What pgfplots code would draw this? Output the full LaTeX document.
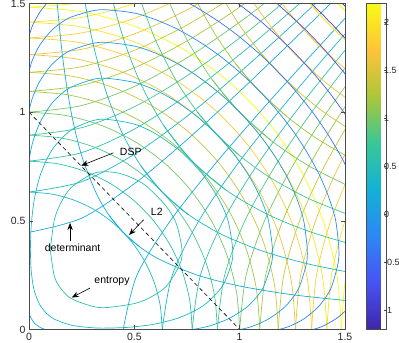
\documentclass[border=0pt]{standalone}
\usepackage{pgfplots}
\pgfplotsset{compat=1.18}
\usepackage{fontspec}
\setmainfont{Liberation Sans}
\usetikzlibrary{arrows.meta}

\definecolor{p0}{rgb}{0.2422,0.1504,0.6603}
\definecolor{p1}{rgb}{0.2810,0.3228,0.9579}
\definecolor{p2}{rgb}{0.1786,0.5289,0.9682}
\definecolor{p3}{rgb}{0.0689,0.6948,0.8394}
\definecolor{p4}{rgb}{0.2161,0.7843,0.5923}
\definecolor{p5}{rgb}{0.6720,0.7793,0.2227}
\definecolor{p6}{rgb}{0.9970,0.7659,0.2199}
\definecolor{p7}{rgb}{0.9769,0.9839,0.0805}
\colorlet{cm12}{p0}
\colorlet{cm10}{p1!41!p0}
\colorlet{cm08}{p1!82!p0}
\colorlet{cm06}{p2!24!p1}
\colorlet{cm04}{p2!65!p1}
\colorlet{cm02}{p3!6!p2}
\colorlet{c00}{p3!47!p2}
\colorlet{c02}{p3!88!p2}
\colorlet{c04}{p4!29!p3}
\colorlet{c06}{p4!71!p3}
\colorlet{c08}{p5!12!p4}
\colorlet{c10}{p5!53!p4}
\colorlet{c12}{p5!94!p4}
\colorlet{c14}{p6!35!p5}
\colorlet{c16}{p6!76!p5}
\colorlet{c18}{p7!18!p6}
\colorlet{c20}{p7!59!p6}
\colorlet{c22}{p7}

\pgfplotsset{
  /pgf/number format/assume math mode=true,
  tick label style={font=\fontsize{10.5}{12}\selectfont, text=black!85},
}
\newcommand{\sym}[2]{%
  \addplot[#1] table[row sep=\\]{#2};
  \addplot[#1] table[row sep=\\,x index=1,y index=0]{#2};}

\begin{document}
\begin{tikzpicture}
\begin{axis}[name=ax, scale only axis, width=316pt, height=326pt,
  xmin=0, xmax=1.5, ymin=0, ymax=1.5,
  xtick={0,0.5,1,1.5}, ytick={0,0.5,1,1.5},
  tick align=inside, major tick length=4pt,
  axis line style={black!70, line width=0.5pt},
  every tick/.style={black!70, line width=0.5pt},
  axis on top, no markers,
  every axis plot/.append style={smooth, line width=0.7pt},
  colormap={parula}{rgb=(0.2422,0.1504,0.6603) rgb=(0.2810,0.3228,0.9579) rgb=(0.1786,0.5289,0.9682) rgb=(0.0689,0.6948,0.8394) rgb=(0.2161,0.7843,0.5923) rgb=(0.6720,0.7793,0.2227) rgb=(0.9970,0.7659,0.2199) rgb=(0.9769,0.9839,0.0805)},
  point meta min=-1.2, point meta max=2.2,
  colorbar,
  colorbar style={at={(parent axis.north east)}, anchor=north west, xshift=13pt,
    scale only axis, width=20pt, height=326pt,
    ytick={-1,-0.5,0,0.5,1,1.5,2}, ytick pos=right, yticklabel pos=right,
    tick align=inside, major tick length=3pt,
    yticklabel style={font=\fontsize{9}{11}\selectfont, inner xsep=0pt, xshift=-2.5pt},
    axis line style={black!70, line width=0.5pt},
    every tick/.style={black!70, line width=0.5pt}},
]
% ---------- L2: circles (angle, radius)
\addplot[c04, data cs=polar] coordinates {(0,0.6325)(10,0.6325)(20,0.6325)(30,0.6325)(40,0.6325)(50,0.6325)(60,0.6325)(70,0.6325)(80,0.6325)(90,0.6325)};
\addplot[c06, data cs=polar] coordinates {(0,0.7746)(10,0.7746)(20,0.7746)(30,0.7746)(40,0.7746)(50,0.7746)(60,0.7746)(70,0.7746)(80,0.7746)(90,0.7746)};
\addplot[c08, data cs=polar] coordinates {(0,0.8944)(10,0.8944)(20,0.8944)(30,0.8944)(40,0.8944)(50,0.8944)(60,0.8944)(70,0.8944)(80,0.8944)(90,0.8944)};
\addplot[c10, data cs=polar] coordinates {(0,1.0)(10,1.0)(20,1.0)(30,1.0)(40,1.0)(50,1.0)(60,1.0)(70,1.0)(80,1.0)(90,1.0)};
\addplot[c12, data cs=polar] coordinates {(0,1.0954)(10,1.0954)(20,1.0954)(30,1.0954)(40,1.0954)(50,1.0954)(60,1.0954)(70,1.0954)(80,1.0954)(90,1.0954)};
\addplot[c14, data cs=polar] coordinates {(0,1.1832)(10,1.1832)(20,1.1832)(30,1.1832)(40,1.1832)(50,1.1832)(60,1.1832)(70,1.1832)(80,1.1832)(90,1.1832)};
\addplot[c16, data cs=polar] coordinates {(0,1.2649)(10,1.2649)(20,1.2649)(30,1.2649)(40,1.2649)(50,1.2649)(60,1.2649)(70,1.2649)(80,1.2649)(90,1.2649)};
\addplot[c18, data cs=polar] coordinates {(0,1.3416)(10,1.3416)(20,1.3416)(30,1.3416)(40,1.3416)(50,1.3416)(60,1.3416)(70,1.3416)(80,1.3416)(90,1.3416)};
\addplot[c20, data cs=polar] coordinates {(0,1.4142)(10,1.4142)(20,1.4142)(30,1.4142)(40,1.4142)(50,1.4142)(60,1.4142)(70,1.4142)(80,1.4142)(90,1.4142)};
\addplot[c22, data cs=polar] coordinates {(0,1.4832)(10,1.4832)(20,1.4832)(30,1.4832)(40,1.4832)(50,1.4832)(60,1.4832)(70,1.4832)(80,1.4832)(90,1.4832)};
% ---------- determinant: two branches
\sym{c02}{0 0.4472\\ 0.25 0.5123\\ 0.5 0.6708\\ 0.75 0.8732\\ 1 1.0954\\ 1.25 1.3276\\ 1.5 1.5652\\}
\sym{c04}{0 0.6325\\ 0.25 0.6801\\ 0.5 0.8062\\ 0.75 0.9811\\ 1 1.1832\\ 1.25 1.4009\\ 1.5 1.6279\\}
\sym{c06}{0 0.7746\\ 0.25 0.8139\\ 0.5 0.9220\\ 0.75 1.0782\\ 1 1.2649\\ 1.25 1.4705\\ 1.5 1.6882\\}
\sym{c08}{0 0.8944\\ 0.25 0.9287\\ 0.5 1.0247\\ 0.75 1.1673\\ 1 1.3416\\ 1.25 1.5370\\}
\sym{c10}{0 1.0\\ 0.25 1.0308\\ 0.5 1.1180\\ 0.75 1.25\\ 1 1.4142\\ 1.25 1.6008\\}
\sym{c12}{0 1.0954\\ 0.25 1.1236\\ 0.5 1.2042\\ 0.75 1.3276\\ 1 1.4832\\ 1.25 1.6621\\}
\sym{c14}{0 1.1832\\ 0.25 1.2093\\ 0.5 1.2845\\ 0.75 1.4009\\ 1 1.5492\\}
\sym{c16}{0 1.2649\\ 0.25 1.2894\\ 0.5 1.3601\\ 0.75 1.4705\\ 1 1.6125\\}
\sym{c18}{0 1.3416\\ 0.25 1.3647\\ 0.5 1.4318\\ 0.75 1.5370\\}
\sym{c20}{0 1.4142\\ 0.25 1.4361\\ 0.5 1.5\\ 0.75 1.6008\\}
\sym{c22}{0 1.4832\\ 0.25 1.5042\\ 0.5 1.5652\\}
% ---------- DSP: halves mirrored
\sym{c02}{0.129 1.55\\ 0.16 1.25\\ 0.2 1.0\\ 0.25 0.8\\ 0.32 0.625\\ 0.38 0.526\\ 0.4472 0.4472\\ 0.526 0.38\\}
\sym{c04}{0.258 1.55\\ 0.3 1.333\\ 0.36 1.111\\ 0.44 0.909\\ 0.53 0.755\\ 0.6325 0.6325\\ 0.755 0.53\\}
\sym{c06}{0.387 1.55\\ 0.45 1.333\\ 0.53 1.132\\ 0.64 0.9375\\ 0.7746 0.7746\\ 0.9375 0.64\\}
\sym{c08}{0.516 1.55\\ 0.6 1.333\\ 0.7 1.143\\ 0.8 1.0\\ 0.8944 0.8944\\ 1.0 0.8\\}
\sym{c10}{0.645 1.55\\ 0.75 1.333\\ 0.87 1.149\\ 1 1\\ 1.149 0.87\\}
\sym{c12}{0.774 1.55\\ 0.88 1.364\\ 0.98 1.224\\ 1.0954 1.0954\\ 1.224 0.98\\}
\sym{c14}{0.903 1.55\\ 1.0 1.4\\ 1.09 1.284\\ 1.1832 1.1832\\ 1.284 1.09\\}
\sym{c16}{1.032 1.55\\ 1.15 1.391\\ 1.2649 1.2649\\ 1.391 1.15\\}
\sym{c18}{1.161 1.55\\ 1.25 1.44\\ 1.3416 1.3416\\ 1.44 1.25\\}
\sym{c20}{1.29 1.55\\ 1.35 1.481\\ 1.4142 1.4142\\ 1.481 1.35\\}
\sym{c22}{1.419 1.55\\ 1.45 1.517\\ 1.4832 1.4832\\ 1.517 1.45\\}
% ---------- entropy
\addplot[c06] coordinates {(0.101,0.368)(0.12,0.503)(0.15,0.58)(0.2,0.653)(0.3,0.716)(0.368,0.726)(0.45,0.713)(0.55,0.665)(0.65,0.568)(0.7,0.485)(0.726,0.368)(0.716,0.3)(0.653,0.2)(0.58,0.15)(0.503,0.12)(0.368,0.101)(0.3,0.107)(0.2,0.1425)(0.15,0.19)(0.12,0.246)(0.101,0.368)};
\addplot[c04] coordinates {(0.0065,0.368)(0.01,0.471)(0.02,0.566)(0.03,0.622)(0.05,0.70)(0.08,0.774)(0.12,0.841)(0.2,0.918)(0.3,0.96)(0.368,0.967)(0.5,0.945)(0.6,0.901)(0.7,0.835)(0.742,0.8)(0.8,0.742)(0.835,0.7)(0.901,0.6)(0.945,0.5)(0.967,0.368)(0.96,0.3)(0.918,0.2)(0.841,0.12)(0.774,0.08)(0.70,0.05)(0.622,0.03)(0.566,0.02)(0.471,0.01)(0.368,0.0065)(0.3,0.0081)(0.2,0.02)(0.12,0.048)(0.08,0.0774)(0.05,0.1165)(0.03,0.163)(0.02,0.2)(0.01,0.275)(0.0065,0.368)};
\addplot[c02] coordinates {(0,0.771)(0.001,0.78)(0.005,0.806)(0.01,0.83)(0.02,0.869)(0.05,0.948)(0.1,1.03)(0.15,1.081)(0.2,1.115)(0.3,1.15)(0.368,1.156)(0.5,1.137)(0.6,1.1015)(0.7,1.0485)(0.8,0.978)(0.894,0.894)(0.978,0.8)(1.0485,0.7)(1.1015,0.6)(1.137,0.5)(1.156,0.368)(1.15,0.3)(1.115,0.2)(1.081,0.15)(1.03,0.1)(0.948,0.05)(0.869,0.02)(0.83,0.01)(0.806,0.005)(0.78,0.001)(0.771,0)};
\addplot[c02] coordinates {(0,0.079)(0.005,0.0627)(0.01,0.052)(0.02,0.037)(0.027,0.027)(0.037,0.02)(0.052,0.01)(0.0627,0.005)(0.079,0)};
\addplot[c00] coordinates {(0,1)(0.001,1.0067)(0.005,1.026)(0.01,1.045)(0.02,1.075)(0.05,1.14)(0.1,1.21)(0.15,1.255)(0.2,1.285)(0.3,1.316)(0.368,1.321)(0.5,1.304)(0.6,1.272)(0.7,1.226)(0.8,1.165)(0.9,1.091)(1,1)(1.091,0.9)(1.165,0.8)(1.226,0.7)(1.272,0.6)(1.304,0.5)(1.321,0.368)(1.316,0.3)(1.285,0.2)(1.255,0.15)(1.21,0.1)(1.14,0.05)(1.075,0.02)(1.045,0.01)(1.026,0.005)(1.0067,0.001)(1,0)};
\addplot[cm02] coordinates {(0,1.184)(0.001,1.19)(0.005,1.206)(0.01,1.223)(0.02,1.249)(0.05,1.307)(0.1,1.369)(0.15,1.41)(0.2,1.4375)(0.3,1.466)(0.368,1.471)(0.5,1.456)(0.6,1.426)(0.7,1.384)(0.8,1.329)(0.9,1.263)(1.0,1.184)(1.0955,1.0955)(1.184,1.0)(1.263,0.9)(1.329,0.8)(1.384,0.7)(1.426,0.6)(1.456,0.5)(1.471,0.368)(1.466,0.3)(1.4375,0.2)(1.41,0.15)(1.369,0.1)(1.307,0.05)(1.249,0.02)(1.223,0.01)(1.206,0.005)(1.19,0.001)(1.184,0)};
\addplot[cm04] coordinates {(0,1.346)(0.001,1.351)(0.005,1.366)(0.01,1.381)(0.02,1.405)(0.05,1.458)(0.08,1.496)(0.1,1.516)};
\addplot[cm04] coordinates {(1.346,0)(1.351,0.001)(1.366,0.005)(1.381,0.01)(1.405,0.02)(1.458,0.05)(1.496,0.08)(1.516,0.1)};
\addplot[cm04] coordinates {(0.708,1.525)(0.76,1.5)(0.8,1.479)(0.9,1.4175)(1.0,1.346)(1.1,1.263)(1.184,1.184)(1.263,1.1)(1.346,1.0)(1.4175,0.9)(1.479,0.8)(1.5,0.76)(1.525,0.708)};
\addplot[cm06] coordinates {(0,1.494)(0.001,1.499)(0.004,1.512)};
\addplot[cm06] coordinates {(1.494,0)(1.499,0.001)(1.512,0.004)};
\addplot[cm06] coordinates {(0.983,1.506)(1.0,1.494)(1.1,1.418)(1.2,1.331)(1.267,1.267)(1.331,1.2)(1.418,1.1)(1.494,1.0)(1.506,0.983)};
\addplot[cm08] coordinates {(1.169,1.506)(1.2,1.4805)(1.3,1.391)(1.346,1.346)(1.391,1.3)(1.4805,1.2)(1.506,1.169)};
\addplot[cm10] coordinates {(1.334,1.506)(1.4,1.443)(1.421,1.421)(1.443,1.4)(1.506,1.334)};
\addplot[cm12] coordinates {(1.482,1.506)(1.494,1.494)(1.506,1.482)};
% ---------- simplex line
\addplot[black, line width=0.6pt, dash pattern=on 4pt off 3pt] coordinates {(0,1)(1,0)};
% ---------- annotations
\begin{scope}[every node/.style={font=\fontsize{10.5}{12}\selectfont, text=black}]
\draw[-{Stealth[length=7pt,width=5.5pt]}, line width=0.6pt] (axis cs:0.401,0.813) -- (axis cs:0.248,0.754);
\node[anchor=west] at (axis cs:0.415,0.819) {DSP};
\draw[-{Stealth[length=7pt,width=5.5pt]}, line width=0.6pt] (axis cs:0.544,0.505) -- (axis cs:0.475,0.435);
\node[anchor=west] at (axis cs:0.562,0.543) {L2};
\draw[-{Stealth[length=7pt,width=5.5pt]}, line width=0.6pt] (axis cs:0.195,0.405) -- (axis cs:0.195,0.49);
\node at (axis cs:0.207,0.374) {determinant};
\draw[-{Stealth[length=7pt,width=5.5pt]}, line width=0.6pt] (axis cs:0.29,0.191) -- (axis cs:0.203,0.147);
\node at (axis cs:0.394,0.222) {entropy};
\end{scope}
\end{axis}
\pgfresetboundingbox
\path ([shift={(-29pt,-13pt)}]ax.south west) rectangle ([shift={(54pt,3.5pt)}]ax.north east);
\end{tikzpicture}
\end{document}
